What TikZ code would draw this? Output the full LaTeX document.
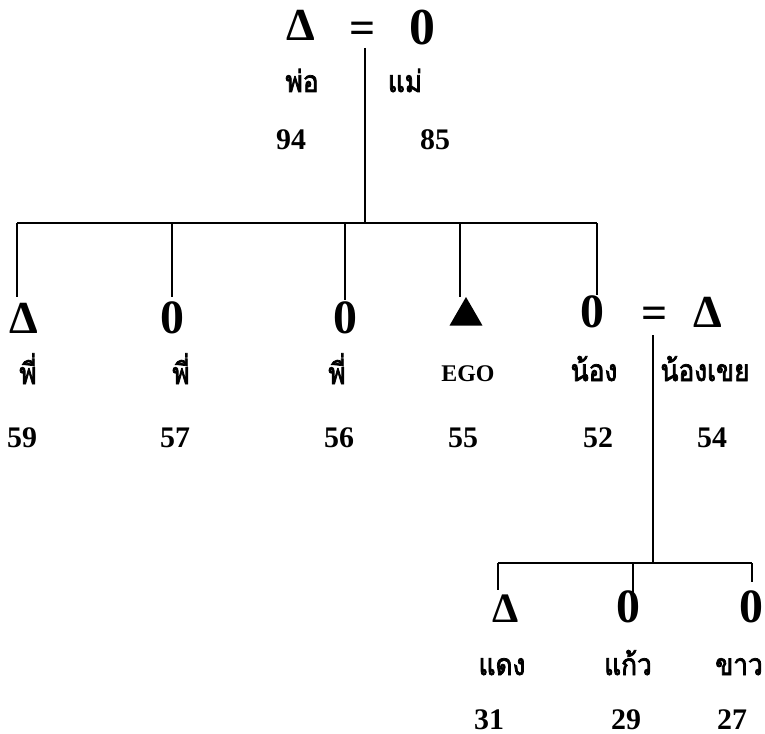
\documentclass[tikz,border=0pt]{standalone}
\usepackage{fontspec}
\setmainfont{Liberation Serif}
\newfontfamily\thaifont[Script=Thai, FakeBold=2.5, FakeStretch=0.88]{Loma}
\usetikzlibrary{shapes.geometric}
\tikzset{
  base/.style={anchor=base, inner sep=0pt, outer sep=0pt},
  symA/.style={base, font=\fontsize{46}{48}\selectfont\bfseries},
  symB/.style={base, font=\fontsize{52}{54}\selectfont\bfseries},
  symC/.style={base, font=\fontsize{48}{50}\selectfont\bfseries},
  symD/.style={base, font=\fontsize{42}{44}\selectfont\bfseries},
  eqs/.style={base, font=\fontsize{46}{48}\selectfont\bfseries},
  thai/.style={base, font=\fontsize{30}{32}\selectfont\thaifont},
  eng/.style={base, font=\fontsize{24}{26}\selectfont\bfseries},
  num/.style={base, font=\fontsize{30}{32}\selectfont\bfseries},
  tri/.style={regular polygon, regular polygon sides=3, minimum size=38bp, inner sep=0pt, fill=black, draw=none},
  heavy/.style={line width=2.8bp},
  light/.style={line width=1.8bp}
}
\begin{document}
\begin{tikzpicture}[x=1bp,y=-1bp]
\useasboundingbox (0,0) rectangle (765,734);
% parents
\node[symA] (fa) at (301,41) {Δ};
\node[eqs] (m1) at (363,44) {=};
\node[symB] (mo) at (422,45) {0};
\node[thai] (faL) at (302,92) {พ่อ};
\node[thai] (moL) at (405,92) {แม่};
\node[num] (faN) at (291,150) {94};
\node[num] (moN) at (435,150) {85};
\coordinate (p0) at (365,48);
\coordinate (p1) at (365,223);
\draw[heavy] (p0) -- (p1);
% sibling bar
\coordinate (bL) at (17,223);
\coordinate (b2) at (172,223);
\coordinate (b3) at (345,223);
\coordinate (b4) at (460,223);
\coordinate (bR) at (597,223);
\coordinate (d1) at (17,297);
\coordinate (d2) at (172,297);
\coordinate (d3) at (345,300);
\coordinate (d4) at (460,297);
\coordinate (d5) at (597,295);
\draw[heavy] (bL) -- (bR);
\draw[heavy] (bL) -- (d1);
\draw[heavy] (b2) -- (d2);
\draw[heavy] (b3) -- (d3);
\draw[heavy] (b4) -- (d4);
\draw[heavy] (bR) -- (d5);
% children
\node[symA] (s1) at (24,333) {Δ};
\node[symC] (s2) at (172,333) {0};
\node[symC] (s3) at (345,333) {0};
\node[tri] (ego) at (466,316) {};
\node[symC] (s5) at (592,327) {0};
\node[eqs] (m2) at (655,328) {=};
\node[symA] (s6) at (708,327) {Δ};
\node[thai] (l1) at (28,384) {พี่};
\node[thai] (l2) at (181,384) {พี่};
\node[thai] (l3) at (337,384) {พี่};
\node[eng] (l4) at (468,381) {EGO};
\node[thai] (l5) at (594,381) {น้อง};
\node[thai] (l6) at (705,381) {น้องเขย};
\node[num] (n1) at (22,447) {59};
\node[num] (n2) at (175,447) {57};
\node[num] (n3) at (339,447) {56};
\node[num] (n4) at (463,447) {55};
\node[num] (n5) at (598,447) {52};
\node[num] (n6) at (712,447) {54};
% grandchildren
\coordinate (q0) at (653,335);
\coordinate (q1) at (653,563);
\coordinate (cL) at (498,563);
\coordinate (c2) at (633,563);
\coordinate (cR) at (752,563);
\coordinate (e1) at (498,590);
\coordinate (e2) at (633,595);
\coordinate (e3) at (752,582);
\draw[light] (q0) -- (q1);
\draw[light] (cL) -- (cR);
\draw[light] (cL) -- (e1);
\draw[light] (c2) -- (e2);
\draw[light] (cR) -- (e3);
\node[symD] (g1) at (506,622) {Δ};
\node[symC] (g2) at (628,622) {0};
\node[symC] (g3) at (751,622) {0};
\node[thai] (k1) at (502,675) {แดง};
\node[thai] (k2) at (628,675) {แก้ว};
\node[thai] (k3) at (739,675) {ขาว};
\node[num] (r1) at (489,729) {31};
\node[num] (r2) at (626,729) {29};
\node[num] (r3) at (732,729) {27};
\end{tikzpicture}
\end{document}
